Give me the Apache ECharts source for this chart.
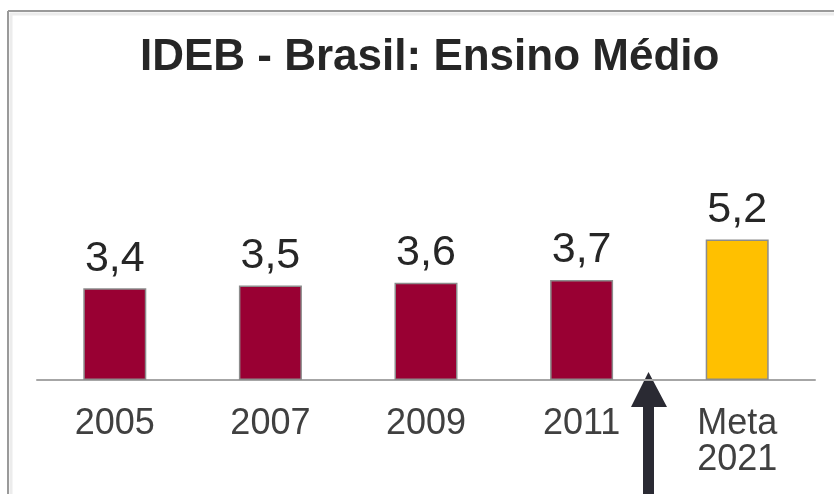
<!DOCTYPE html>
<html>
<head>
<meta charset="utf-8">
<style>
  html, body { margin: 0; padding: 0; background: #fff; }
  #chart { width: 834px; height: 494px; }
</style>
<script src="https://cdn.jsdelivr.net/npm/echarts@6/dist/echarts.min.js"></script>
</head>
<body>
<div id="chart"></div>
<script>
// dados do gráfico
const categories = ['2005', '2007', '2009', '2011', 'Meta\n2021']
const values = [3.4, 3.5, 3.6, 3.7, 5.2]
const barColors = ['#990033', '#990033', '#990033', '#990033', '#ffc000']

const chart = echarts.init(document.getElementById('chart'))

const option = {
  backgroundColor: '#fff',
  animation: false,
  title: {
    text: 'IDEB - Brasil: Ensino Médio',
    left: 135,
    top: 31,
    textStyle: {
      fontFamily: 'Liberation Sans',
      fontSize: 44,
      fontWeight: 'bold',
      color: '#262626',
    },
  },
  grid: {
    left: 37,
    right: 19,
    top: 110,
    bottom: 114,
  },
  xAxis: {
    type: 'category',
    data: categories,
    axisLine: { lineStyle: { color: '#a6a6a6', width: 2 } },
    axisTick: { show: false },
    axisLabel: {
      margin: 26,
      fontFamily: 'Liberation Sans',
      fontSize: 36,
      lineHeight: 36,
      color: '#404040',
    },
  },
  yAxis: {
    type: 'value',
    min: 0,
    max: 10,
    show: false,
  },
  series: [
    {
      type: 'bar',
      barWidth: 63,
      data: values.map((v, i) => ({
        value: v,
        itemStyle: { color: barColors[i] },
      })),
      itemStyle: { borderColor: '#8c8c8c', borderWidth: 1.5 },
      label: {
        show: true,
        position: 'top',
        distance: 8,
        fontFamily: 'Liberation Sans',
        fontSize: 43,
        color: '#262626',
        formatter: (p) => String(p.value).replace('.', ','),
      },
    },
  ],
  graphic: [
    // moldura
    { type: 'line', shape: { x1: 8, y1: 11, x2: 834, y2: 11 }, style: { stroke: '#9a9a9a', lineWidth: 2 } },
    { type: 'line', shape: { x1: 8, y1: 11, x2: 8, y2: 494 }, style: { stroke: '#9a9a9a', lineWidth: 2 } },
    { type: 'line', shape: { x1: 10, y1: 14, x2: 834, y2: 14 }, style: { stroke: '#ececec', lineWidth: 3 } },
    { type: 'line', shape: { x1: 11, y1: 13, x2: 11, y2: 494 }, style: { stroke: '#ececec', lineWidth: 3 } },
    // seta
    {
      type: 'polygon',
      shape: {
        points: [[648.5, 372], [667, 407], [654, 407], [654, 494], [643, 494], [643, 407], [631, 407]],
      },
      style: { fill: '#2a2a33' },
    },
  ],
}

chart.setOption(option)
</script>
</body>
</html>
